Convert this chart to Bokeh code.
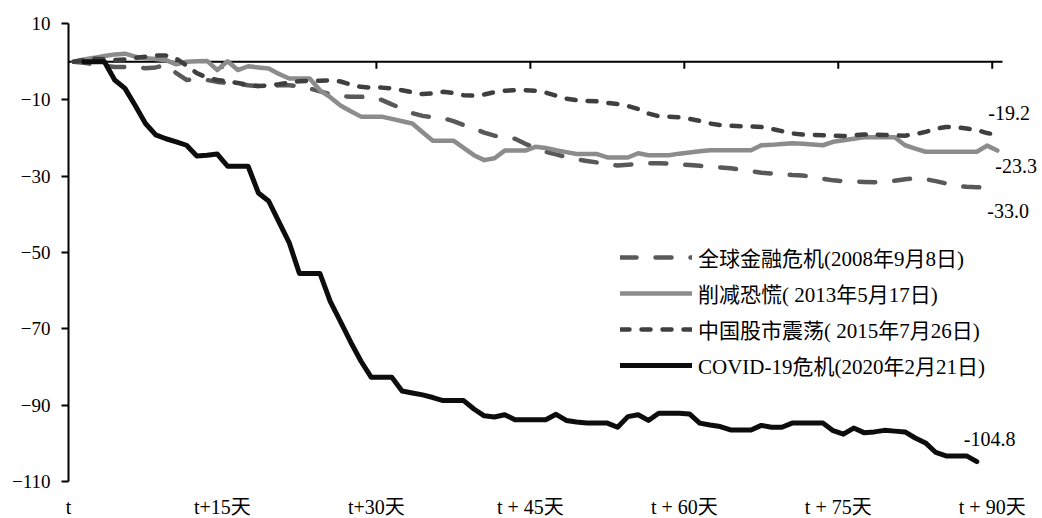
import numpy as np
from bokeh.plotting import figure
from bokeh.models import FixedTicker, Legend, LegendItem, Label
from bokeh.embed import file_html
from bokeh.resources import INLINE

# ---------------- data ----------------
series_names = ["全球金融危机(2008年9月8日)", "削减恐慌( 2013年5月17日)",
                "中国股市震荡( 2015年7月26日)", "COVID-19危机(2020年2月21日)"]

crisis_2008 = [0, -0.3, -0.7, -1.1, -1.4, -1.4, -1.5, -1.7, -1.5, -0.9,
               -3.0, -4.8, -4.5, -4.8, -5.3, -5.6, -5.8, -6.2, -6.4, -6.3,
               -6.2, -6.2, -6.4, -7.0, -7.8, -8.5, -9.0, -9.2, -9.2, -9.3,
               -10.0, -11.2, -12.3, -13.5, -14.2, -14.6, -14.8, -15.6, -16.6, -17.5,
               -18.6, -19.4, -19.8, -20.2, -21.5, -22.7, -23.6, -24.3, -25.0, -25.6,
               -26.0, -26.4, -27.0, -27.2, -27.0, -26.8, -26.6, -26.6, -26.7, -26.9,
               -27.1, -27.3, -27.5, -27.7, -27.9, -28.3, -28.7, -29.1, -29.3, -29.5,
               -29.7, -29.8, -30.2, -30.7, -31.1, -31.3, -31.4, -31.5, -31.6, -31.5,
               -31.2, -30.8, -30.6, -30.8, -31.3, -31.9, -32.5, -32.8, -32.9, -33.0,
               -33.0]

taper_2013 = [0, 0.6, 1.0, 1.5, 1.9, 2.1, 1.3, 0.9, 0.7, 0.4,
              -0.7, 0.0, 0.1, 0.2, -2.2, 0.1, -2.2, -1.2, -1.5, -1.8,
              -3.2, -4.4, -4.4, -4.4, -7.5, -9.3, -11.5, -13.0, -14.4, -14.4,
              -14.4, -15.0, -15.6, -16.2, -18.5, -20.7, -20.7, -20.7, -22.6, -24.5,
              -25.8, -25.3, -23.3, -23.3, -23.3, -22.3, -22.6, -23.2, -23.7, -24.2,
              -24.2, -24.2, -25.1, -25.1, -25.1, -24.0, -24.5, -24.5, -24.5, -24.1,
              -23.8, -23.5, -23.2, -23.2, -23.2, -23.2, -23.2, -21.9, -21.8, -21.6,
              -21.4, -21.5, -21.7, -21.9, -21.0, -20.6, -20.2, -19.8, -19.8, -19.8,
              -19.8, -21.9, -22.8, -23.6, -23.6, -23.6, -23.6, -23.6, -23.6, -22.0,
              -23.3]

china_2015 = [0, 0.4, 0.8, 0.6, 0.4, 0.6, 1.0, 1.3, 1.6, 1.6,
              0.8, -1.0, -3.0, -4.2, -4.8, -5.2, -5.6, -6.1, -6.4, -6.2,
              -5.9, -5.5, -5.1, -5.0, -5.0, -4.9, -5.2, -6.0, -6.6, -6.8,
              -6.8, -7.0, -7.5, -8.0, -8.5, -8.3, -7.9, -8.2, -8.8, -8.9,
              -8.6, -8.0, -7.6, -7.5, -7.5, -7.6, -8.1, -8.9, -9.7, -10.1,
              -10.3, -10.4, -10.8, -11.1, -11.6, -12.4, -13.6, -14.3, -14.4, -14.6,
              -15.0, -15.5, -16.2, -16.6, -16.8, -16.9, -17.0, -17.1, -17.6, -18.2,
              -18.8, -19.1, -19.2, -19.3, -19.4, -19.5, -19.3, -19.1, -19.1, -19.2,
              -19.3, -19.4, -19.0, -18.4, -17.6, -17.1, -17.2, -17.5, -17.9, -18.7,
              -19.2]

covid_start_day = 1
covid_2020 = [0, 0, 0, -4.8, -7.0, -11.5, -16.2, -19.2, -20.2, -21.0,
              -21.9, -24.7, -24.5, -24.2, -27.4, -27.4, -27.4, -34.4, -36.5, -42.0,
              -47.4, -55.5, -55.5, -55.5, -62.8, -68.1, -73.5, -78.5, -82.7, -82.7,
              -82.7, -86.3, -86.8, -87.3, -88.0, -88.8, -88.8, -88.8, -91.0, -92.8,
              -93.1, -92.5, -93.8, -93.8, -93.8, -93.8, -92.4, -94.0, -94.4, -94.7,
              -94.7, -94.7, -95.8, -93.0, -92.5, -94.0, -92.1, -92.1, -92.1, -92.3,
              -94.7, -95.2, -95.6, -96.5, -96.5, -96.5, -95.3, -95.8, -95.8, -94.7,
              -94.7, -94.7, -94.7, -96.7, -97.6, -96.0, -97.2, -97.0, -96.6, -96.8,
              -97.0, -98.6, -99.9, -102.4, -103.3, -103.3, -103.3, -104.8]

x_ticks = [0, 15, 30, 45, 60, 75, 90]
x_tick_labels = ["t", "t+15天", "t+30天", "t + 45天", "t + 60天", "t + 75天", "t + 90天"]
y_ticks = [10, -10, -30, -50, -70, -90, -110]
x_axis_end = 91

# ---------------- styles ----------------
SERIF = "Liberation Serif, Noto Sans CJK SC"
colors = ["#595959", "#8c8c8c", "#3f3f3f", "#0d0d0d"]
widths = [4.5, 4.5, 4.5, 5]
dashes = ["16 19", "solid", "9 12", "solid"]
# end-label offsets (px): right, up
end_offsets = [(-10, -23), (-2, -15), (-9, 22), (-13, 23)]

PX_PER_DAY = 934 / x_axis_end
FW, FH = 1042 - 68, 458
p = figure(frame_width=FW, frame_height=FH, x_range=(0, FW / PX_PER_DAY), y_range=(-110, 10),
           output_backend="svg", toolbar_location=None,
           min_border_left=68, min_border_right=0, min_border_top=23, min_border_bottom=37)
p.outline_line_color = None
p.xgrid.visible = False
p.ygrid.visible = False
p.background_fill_color = "white"
p.border_fill_color = "white"

# y axis
p.yaxis.ticker = FixedTicker(ticks=y_ticks)
p.yaxis.major_tick_out = 7
p.yaxis.major_tick_in = 0
p.yaxis.minor_tick_out = 0
p.yaxis.minor_tick_in = 0
p.yaxis.axis_line_width = 2
p.yaxis.axis_line_color = "black"
p.yaxis.major_tick_line_width = 2
p.yaxis.major_label_standoff = 11
p.yaxis.major_label_text_font = SERIF
p.yaxis.major_label_text_font_size = "19px"
p.yaxis.major_label_text_color = "black"

# x axis: labels only at bottom
p.xaxis.ticker = FixedTicker(ticks=x_ticks)
p.xaxis.major_label_overrides = {t: l for t, l in zip(x_ticks, x_tick_labels)}
p.xaxis.axis_line_color = None
p.xaxis.major_tick_line_color = None
p.xaxis.minor_tick_line_color = None
p.xaxis.major_tick_out = 0
p.xaxis.major_tick_in = 0
p.xaxis.major_label_standoff = 14
p.xaxis.major_label_text_font = SERIF
p.xaxis.major_label_text_font_size = "20px"
p.xaxis.major_label_text_color = "black"

# zero line with downward ticks
p.segment(x0=[0], y0=[0], x1=[x_axis_end], y1=[0], line_color="black", line_width=2)
unit_px = FH / (10 - (-110))
tick_len = 7 / unit_px
tk = [t for t in x_ticks if t > 0]
p.segment(x0=tk, y0=[0] * len(tk), x1=tk, y1=[-tick_len] * len(tk),
          line_color="black", line_width=2)

# series
all_series = [crisis_2008, taper_2013, china_2015, covid_2020]
starts = [0, 0, 0, covid_start_day]
renderers = []
for s, st, c, w, d in zip(all_series, starts, colors, widths, dashes):
    xs = np.arange(st, st + len(s)) + 0.5
    r = p.line(xs, s, line_color=c, line_width=w, line_dash=d,
               line_cap="round", line_join="round")
    renderers.append(r)

# end labels
for s, st, (dx, dy) in zip(all_series, starts, end_offsets):
    xe = st + len(s) - 1 + 0.5
    ye = s[-1]
    p.add_layout(Label(x=xe, y=ye, x_offset=dx, y_offset=dy, text=f"{ye:.1f}",
                       text_font=SERIF, text_font_size="20px", text_color="black",
                       text_baseline="middle", text_align="left"))

legend = Legend(items=[LegendItem(label=n, renderers=[r]) for n, r in zip(series_names, renderers)],
                location=(552, 101), orientation="vertical",
                border_line_color=None, background_fill_alpha=0,
                padding=0, margin=0, spacing=6,
                glyph_width=72, glyph_height=20, label_height=20, label_standoff=6,
                label_text_font=SERIF, label_text_font_size="21px",
                label_text_color="black", label_text_baseline="middle")
p.add_layout(legend)

open("out.html", "w").write(file_html(p, INLINE))
